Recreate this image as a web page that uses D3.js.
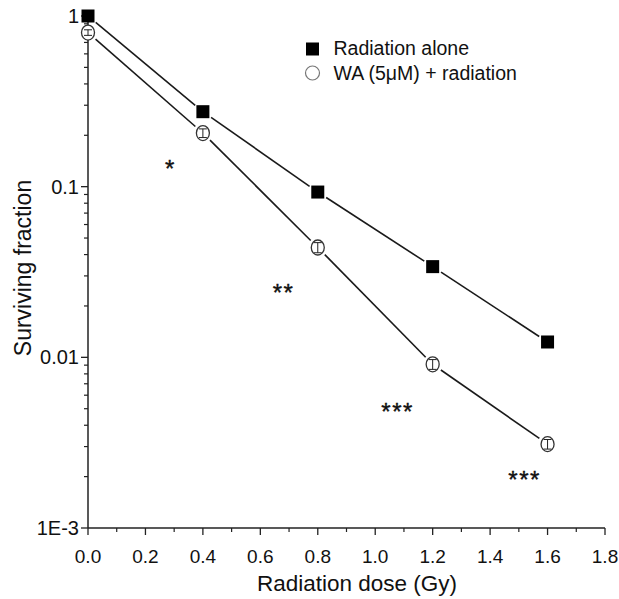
<!DOCTYPE html>
<html>
<head>
<meta charset="utf-8">
<script src="https://cdn.jsdelivr.net/npm/d3@7"></script>
<style>
  body { margin: 0; background: #fff; }
  text { font-family: "Liberation Sans", Arial, sans-serif; fill: #111; }
</style>
</head>
<body>
<div id="chart"></div>
<script>
const doses = [0.0, 0.4, 0.8, 1.2, 1.6];
const radiationAlone = [1.0, 0.275, 0.093, 0.034, 0.0123];
const waRadiation = [0.8, 0.206, 0.044, 0.0091, 0.0031];
const waRadiationErr = [0.03, 0.012, 0.003, 0.0006, 0.0002];
const xTicks = [0.0, 0.2, 0.4, 0.6, 0.8, 1.0, 1.2, 1.4, 1.6, 1.8];
const yTicks = [1, 0.1, 0.01, 0.001];
const yTickLabels = ["1", "0.1", "0.01", "1E-3"];
const stars = [
    {x: 0.287, y: 0.114, label: "*"},
    {x: 0.681, y: 0.0214, label: "**"},
    {x: 1.078, y: 0.0043, label: "***"},
    {x: 1.52, y: 0.00171, label: "***"}
];

const W = 619, H = 599;
const margin = {top: 16, right: 14, bottom: 71, left: 88};

const svg = d3.select("#chart").append("svg")
    .attr("width", W)
    .attr("height", H);

const x = d3.scaleLinear().domain([0, 1.8]).range([margin.left, W - margin.right]);
const y = d3.scaleLog().domain([0.001, 1]).range([528, margin.top]);

// minor ticks
const yMinor = [];
[0.001, 0.01, 0.1].forEach(d => { for (let i = 2; i <= 9; i++) yMinor.push(d * i); });
const xMinor = d3.range(0.1, 1.8, 0.2);

const xAxis = svg.append("g")
    .attr("transform", `translate(0,${y(0.001)})`);
xAxis.append("line")
    .attr("x1", x(0)).attr("x2", x(1.8))
    .attr("stroke", "#222").attr("stroke-width", 1.5);
xAxis.selectAll(".maj").data(xTicks).enter().append("line")
    .attr("x1", d => x(d)).attr("x2", d => x(d))
    .attr("y1", 0).attr("y2", 7)
    .attr("stroke", "#222").attr("stroke-width", 1.3);
xAxis.selectAll(".min").data(xMinor).enter().append("line")
    .attr("x1", d => x(d)).attr("x2", d => x(d))
    .attr("y1", 0).attr("y2", 4)
    .attr("stroke", "#222").attr("stroke-width", 1.2);
xAxis.selectAll(".lab").data(xTicks).enter().append("text")
    .attr("x", d => x(d)).attr("y", 35)
    .attr("text-anchor", "middle")
    .attr("font-size", 19)
    .text(d => d.toFixed(1));

const yAxis = svg.append("g")
    .attr("transform", `translate(${x(0)},0)`);
yAxis.append("line")
    .attr("y1", y(0.001)).attr("y2", y(1) - 2)
    .attr("stroke", "#222").attr("stroke-width", 1.5);
yAxis.selectAll(".maj").data(yTicks).enter().append("line")
    .attr("y1", d => y(d)).attr("y2", d => y(d))
    .attr("x1", -7).attr("x2", 0)
    .attr("stroke", "#222").attr("stroke-width", 1.3);
yAxis.selectAll(".min").data(yMinor).enter().append("line")
    .attr("y1", d => y(d)).attr("y2", d => y(d))
    .attr("x1", -4).attr("x2", 0)
    .attr("stroke", "#222").attr("stroke-width", 1.2);
yAxis.selectAll(".lab").data(yTicks).enter().append("text")
    .attr("x", -9).attr("y", d => y(d) + 7)
    .attr("text-anchor", "end")
    .attr("font-size", 20)
    .text((d, i) => yTickLabels[i]);

svg.append("text")
    .attr("x", 357)
    .attr("y", 591)
    .attr("text-anchor", "middle")
    .attr("font-size", 22.5)
    .text("Radiation dose (Gy)");

svg.append("text")
    .attr("transform", "translate(31,268) rotate(-90)")
    .attr("text-anchor", "middle")
    .attr("font-size", 23)
    .text("Surviving fraction");

// connecting lines with gaps at the markers (Origin style)
function drawSeries(values, gap) {
    const pts = doses.map((d, i) => [x(d), y(values[i])]);
    for (let i = 0; i < pts.length - 1; i++) {
        const [x1, y1] = pts[i], [x2, y2] = pts[i + 1];
        const len = Math.hypot(x2 - x1, y2 - y1);
        const ux = (x2 - x1) / len, uy = (y2 - y1) / len;
        svg.append("line")
            .attr("x1", x1 + ux * gap).attr("y1", y1 + uy * gap)
            .attr("x2", x2 - ux * gap).attr("y2", y2 - uy * gap)
            .attr("stroke", "#1a1a1a").attr("stroke-width", 1.6);
    }
}
drawSeries(radiationAlone, 10);
drawSeries(waRadiation, 10);

// error bars
function drawErr(values, errs) {
    doses.forEach((d, i) => {
        const cx = x(d), top = y(values[i] + errs[i]), bot = y(values[i] - errs[i]);
        svg.append("line").attr("x1", cx).attr("x2", cx).attr("y1", top).attr("y2", bot)
            .attr("stroke", "#222").attr("stroke-width", 1);
        [top, bot].forEach(v => svg.append("line")
            .attr("x1", cx - 4).attr("x2", cx + 4).attr("y1", v).attr("y2", v)
            .attr("stroke", "#222").attr("stroke-width", 1));
    });
}

svg.selectAll(".sq").data(doses).enter().append("rect")
    .attr("x", d => x(d) - 6.5)
    .attr("y", (d, i) => y(radiationAlone[i]) - 6.5)
    .attr("width", 13).attr("height", 13)
    .attr("fill", "#000");

svg.selectAll(".ci").data(doses).enter().append("ellipse")
    .attr("cx", d => x(d))
    .attr("cy", (d, i) => y(waRadiation[i]))
    .attr("rx", 6.5).attr("ry", 7.5)
    .attr("fill", "#fff")
    .attr("stroke", "#333").attr("stroke-width", 1.3);
drawErr(waRadiation, waRadiationErr);

svg.selectAll(".star").data(stars).enter().append("text")
    .attr("x", d => x(d.x))
    .attr("y", d => y(d.y))
    .attr("text-anchor", "middle")
    .attr("font-size", 24)
    .attr("letter-spacing", 1.5)
    .attr("stroke", "#111").attr("stroke-width", 0.4)
    .text(d => d.label);

// legend
const legend = svg.append("g").attr("transform", "translate(312.5,0)");
legend.append("rect").attr("x", -6.5).attr("y", 42.5).attr("width", 13).attr("height", 13).attr("fill", "#000");
legend.append("text").attr("x", 21).attr("y", 55).attr("font-size", 19.5).text("Radiation alone");
legend.append("ellipse").attr("cx", 0).attr("cy", 73).attr("rx", 7).attr("ry", 7)
    .attr("fill", "#fff").attr("stroke", "#777").attr("stroke-width", 1.2);
legend.append("text").attr("x", 21).attr("y", 80).attr("font-size", 19.5).text("WA (5μM) + radiation");
</script>
</body>
</html>
